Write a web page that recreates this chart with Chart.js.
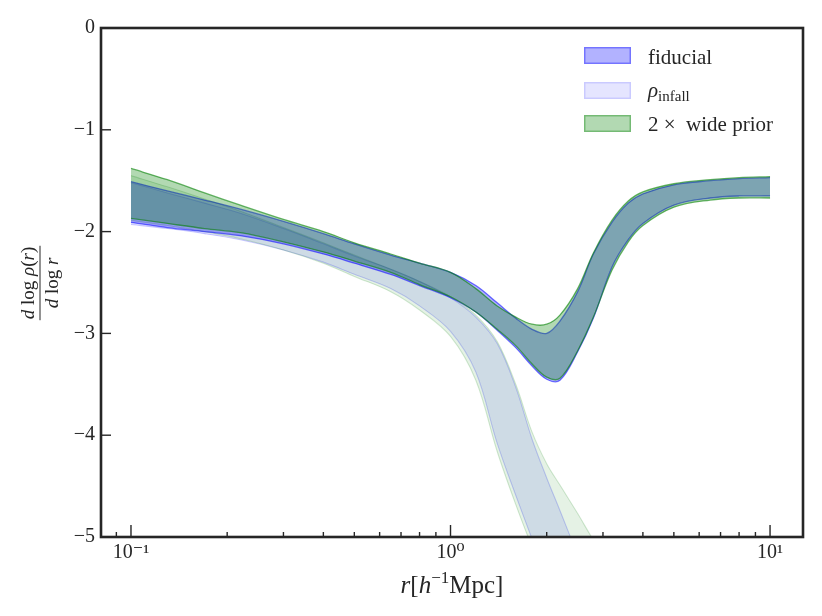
<!DOCTYPE html>
<html><head><meta charset="utf-8">
<script src="https://cdn.jsdelivr.net/npm/chart.js@4.4.1/dist/chart.umd.min.js"></script>
<style>html,body{margin:0;padding:0;background:#fff;}#wrap{width:822px;height:616px;position:relative;}</style>
</head><body><div id="wrap"><canvas id="c" width="822" height="616"></canvas></div>
<script>
// ---- data ----
const rGrid = [0.1, 0.13, 0.17, 0.22, 0.3, 0.4, 0.5, 0.65, 0.8, 1.0, 1.2, 1.4, 1.6, 1.8, 2.0, 2.2, 2.5, 2.8, 3.2, 3.6, 4.0, 5.0, 6.5, 8.0, 10.0];

const fidUpper  = [-1.51, -1.60, -1.69, -1.78, -1.90, -2.02, -2.12, -2.23, -2.31, -2.40, -2.53, -2.70, -2.85, -2.96, -3.00, -2.88, -2.59, -2.22, -1.91, -1.72, -1.63, -1.54, -1.50, -1.48, -1.47];
const fidLower  = [-1.91, -1.96, -2.00, -2.04, -2.12, -2.22, -2.31, -2.42, -2.53, -2.65, -2.79, -2.97, -3.14, -3.32, -3.45, -3.46, -3.18, -2.85, -2.35, -2.08, -1.92, -1.74, -1.67, -1.65, -1.65];
const wideUpper = [-1.38, -1.49, -1.62, -1.74, -1.88, -2.00, -2.11, -2.22, -2.31, -2.40, -2.56, -2.73, -2.84, -2.91, -2.91, -2.82, -2.56, -2.21, -1.89, -1.70, -1.61, -1.53, -1.49, -1.47, -1.46];
const wideLower = [-1.87, -1.92, -1.97, -2.01, -2.10, -2.20, -2.29, -2.40, -2.52, -2.64, -2.79, -2.96, -3.12, -3.30, -3.43, -3.44, -3.17, -2.84, -2.38, -2.10, -1.94, -1.76, -1.69, -1.67, -1.67];

// infall component bands (fiducial and wide prior)
const infFidUpper  = [-1.52, -1.62, -1.72, -1.82, -1.97, -2.12, -2.24, -2.37, -2.49, -2.65, -2.84, -3.10, -3.53, -4.04, -4.42, -4.74, -5.18];
const infFidLower  = [-1.93, -1.97, -2.02, -2.08, -2.18, -2.30, -2.42, -2.56, -2.73, -2.98, -3.38, -4.08, -4.59, -5.02, -5.40, -5.75, -6.20];
const infWideUpper = [-1.45, -1.56, -1.68, -1.80, -1.96, -2.11, -2.23, -2.37, -2.49, -2.64, -2.82, -3.08, -3.50, -3.97, -4.28, -4.49, -4.77, -5.03, -5.30];
const infWideLower = [-1.89, -1.94, -2.00, -2.07, -2.18, -2.31, -2.44, -2.59, -2.77, -3.03, -3.46, -4.16, -4.68, -5.10, -5.45, -5.80, -6.20, -6.60, -7.00];

const xTickValues = [0.1, 1, 10];
const xTickLabels = ['10\u207B\u00B9', '10\u2070', '10\u00B9'];
const yTickValues = [0, -1, -2, -3, -4, -5];
const legendLabels = ['fiducial', '\u03C1', '2 \u00D7  wide prior'];

// ---- styles ----
const FONT = '"Liberation Serif", "DejaVu Serif", serif';
const INK = '#262626';
const BLUE = a => `rgba(0,0,255,${a})`;
const GREEN = a => `rgba(0,128,0,${a})`;

const pts = arr => arr.map((y, i) => ({x: rGrid[i], y}));
function band(upper, lower, fillCol, lineCol, order, lw) {
  const base = {pointRadius: 0, borderWidth: lw, borderColor: lineCol, tension: 0.35, order};
  return [
    Object.assign({}, base, {data: pts(upper), fill: '+1', backgroundColor: fillCol}),
    Object.assign({}, base, {data: pts(lower), fill: false, backgroundColor: fillCol})
  ];
}

const datasets = [
  ...band(wideUpper, wideLower, GREEN(0.3), GREEN(0.6), 1, 1.3),
  ...band(fidUpper, fidLower, BLUE(0.3), BLUE(0.55), 2, 1.3),
  ...band(infWideUpper, infWideLower, GREEN(0.1), GREEN(0.18), 3, 1.1),
  ...band(infFidUpper, infFidLower, BLUE(0.1), BLUE(0.2), 4, 1.1)
];

function drawRich(ctx, segs, x, y, align) {
  let w = 0;
  segs.forEach(s => { ctx.font = `${s.it ? 'italic ' : ''}${s.size}px ${FONT}`; s.w = ctx.measureText(s.t).width; w += s.w; });
  let cx = align === 'center' ? x - w / 2 : x;
  ctx.textAlign = 'left'; ctx.textBaseline = 'alphabetic';
  segs.forEach(s => { ctx.font = `${s.it ? 'italic ' : ''}${s.size}px ${FONT}`; ctx.fillText(s.t, cx, y + (s.dy || 0)); cx += s.w; });
  return w;
}

const decor = {
  id: 'decor',
  afterDraw(chart) {
    const {ctx, chartArea: a, scales: {x, y}} = chart;
    ctx.save();
    ctx.strokeStyle = INK; ctx.fillStyle = INK;
    // inward ticks
    ctx.lineWidth = 1.4;
    yTickValues.forEach(v => {
      const py = y.getPixelForValue(v);
      ctx.beginPath(); ctx.moveTo(a.left, py); ctx.lineTo(a.left + 10, py); ctx.stroke();
    });
    for (let k = -2; k <= 1; k++) {
      for (let m = 1; m <= 9; m++) {
        const v = m * Math.pow(10, k);
        if (v < x.min || v > x.max) continue;
        const px = x.getPixelForValue(v);
        const len = m === 1 ? 12 : 5;
        ctx.beginPath(); ctx.moveTo(px, a.bottom); ctx.lineTo(px, a.bottom - len); ctx.stroke();
      }
    }
    // frame
    ctx.lineWidth = 2.6;
    ctx.strokeRect(a.left, a.top, a.right - a.left, a.bottom - a.top);

    // legend
    const lx = 584, pw = 47, ph = 17, tx = 648;
    const rows = [
      {y: 47, fill: BLUE(0.3), edge: BLUE(0.35)},
      {y: 82, fill: BLUE(0.1), edge: BLUE(0.12)},
      {y: 115, fill: GREEN(0.3), edge: GREEN(0.35)}
    ];
    rows.forEach(r => {
      ctx.fillStyle = r.fill; ctx.fillRect(lx, r.y, pw, ph);
      ctx.strokeStyle = r.edge; ctx.lineWidth = 1.5; ctx.strokeRect(lx + 0.75, r.y + 0.75, pw - 1.5, ph - 1.5);
    });
    ctx.fillStyle = INK;
    drawRich(ctx, [{t: legendLabels[0], size: 21}], tx, 64, 'left');
    drawRich(ctx, [{t: legendLabels[1], it: true, size: 21}, {t: 'infall', size: 15, dy: 4}], tx, 97, 'left');
    drawRich(ctx, [{t: legendLabels[2], size: 21}], tx, 131, 'left');

    // x title
    drawRich(ctx, [
      {t: 'r', it: true, size: 25}, {t: '[', size: 25}, {t: 'h', it: true, size: 25},
      {t: '\u22121', size: 17, dy: -10}, {t: 'Mpc]', size: 25}
    ], 452, 593, 'center');

    // y title (fraction, rotated)
    ctx.translate(40, 283);
    ctx.rotate(-Math.PI / 2);
    const wNum = drawRich(ctx, [
      {t: 'd', it: true, size: 19}, {t: ' log ', size: 19}, {t: '\u03C1', it: true, size: 19},
      {t: '(', size: 19}, {t: 'r', it: true, size: 19}, {t: ')', size: 19}
    ], 0, -6, 'center');
    drawRich(ctx, [{t: 'd', it: true, size: 19}, {t: ' log ', size: 19}, {t: 'r', it: true, size: 19}], 0, 18, 'center');
    ctx.lineWidth = 1; ctx.strokeStyle = INK;
    ctx.beginPath(); ctx.moveTo(-wNum / 2 - 1, 0); ctx.lineTo(wNum / 2 + 1, 0); ctx.stroke();
    ctx.restore();
  }
};

new Chart(document.getElementById('c'), {
  type: 'line',
  data: {datasets},
  plugins: [decor],
  options: {
    responsive: false, animation: false, devicePixelRatio: 1,
    layout: {padding: {top: 28, right: 19, left: 0, bottom: 0}},
    plugins: {legend: {display: false}, tooltip: {enabled: false}},
    scales: {
      x: {
        type: 'logarithmic', min: 0.08057, max: 12.68,
        afterBuildTicks: s => { s.ticks = xTickValues.map(v => ({value: v})); },
        afterFit: s => { s.height = 79; },
        grid: {display: false, drawTicks: false}, border: {display: false},
        ticks: {
          autoSkip: false, maxRotation: 0, padding: 4, color: INK,
          font: {family: FONT, size: 20},
          callback: v => { const i = xTickValues.findIndex(t => Math.abs(t - v) < 1e-9); return i >= 0 ? xTickLabels[i] : ''; }
        }
      },
      y: {
        type: 'linear', min: -5, max: 0,
        afterBuildTicks: s => { s.ticks = yTickValues.map(v => ({value: v})); },
        afterFit: s => { s.width = 101; },
        grid: {display: false, drawTicks: false}, border: {display: false},
        ticks: {
          padding: 6, color: INK, font: {family: FONT, size: 20},
          callback: v => v < 0 ? '\u2212' + (-v) : String(v)
        }
      }
    }
  }
});
</script></body></html>
